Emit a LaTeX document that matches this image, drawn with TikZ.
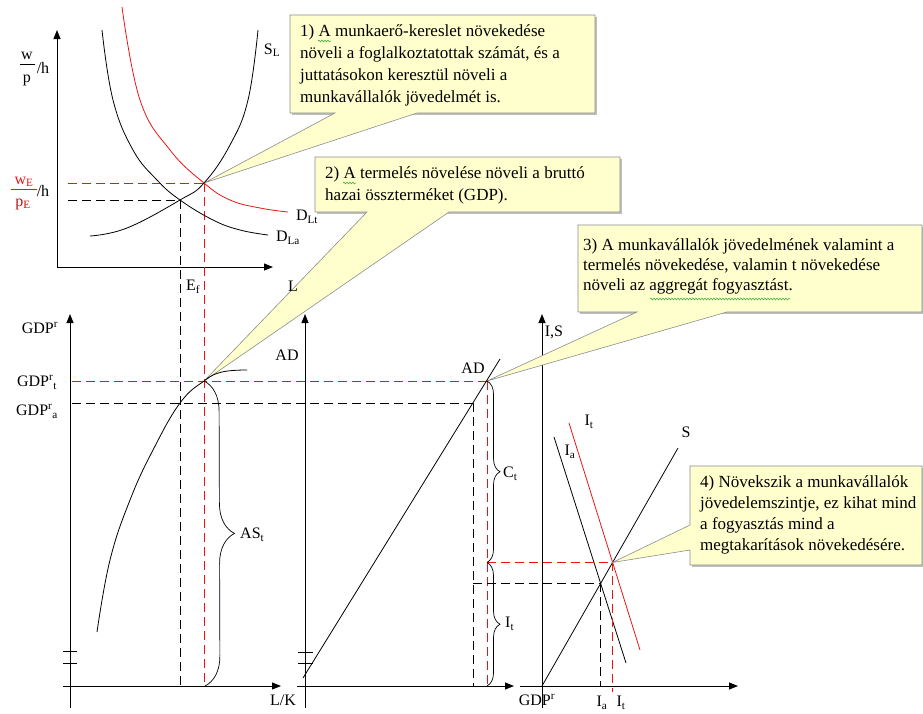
\documentclass[tikz,border=0pt]{standalone}
\usepackage{fontspec}
\setmainfont{Liberation Serif}
\usetikzlibrary{arrows.meta,decorations.pathreplacing,decorations.pathmorphing,intersections}
\definecolor{callfill}{RGB}{255,255,206}
\definecolor{callborder}{RGB}{140,140,140}
\definecolor{dred}{RGB}{235,20,20}
\definecolor{spell}{RGB}{40,170,40}
\begin{document}
\begin{tikzpicture}[x=1pt,y=-1pt,font=\fontsize{16}{22}\selectfont,
  axis/.style={line width=1pt,-{Triangle[length=9pt,width=7pt]}},
  curve/.style={line width=0.8pt},
  rcurve/.style={curve,dred},
  bdash/.style={line width=0.9pt,dash pattern=on 9pt off 5pt},
  rdash/.style={bdash,dred},
  lbl/.style={inner sep=0pt},
  callout/.style={fill=callfill,draw=callborder,line width=0.6pt},
  shade/.style={fill=black!25},
  ctext/.style={align=left,anchor=north west,inner sep=0pt},
  squig/.style={spell,line width=0.5pt,decorate,decoration={snake,amplitude=0.9pt,segment length=3pt}},
  brc/.style={decorate,decoration={brace,amplitude=#1},line width=0.7pt}]
\useasboundingbox (0,0) rectangle (923,713);

% ---------- axes ----------
\coordinate (o1) at (57,267);  \coordinate (y1) at (57,30);   \coordinate (x1) at (273,267);
\coordinate (yb2) at (70,708); \coordinate (y2) at (70,314);  \coordinate (xb2) at (63,686); \coordinate (x2) at (281,686);
\coordinate (yb3) at (305,708);\coordinate (y3) at (305,314); \coordinate (xb3) at (297,686);\coordinate (x3) at (514,686);
\coordinate (yb4) at (542,708);\coordinate (y4) at (542,314); \coordinate (xb4) at (520,686);\coordinate (x4) at (738,686);
\draw[axis] (o1) -- (y1);
\draw[axis] (o1) -- (x1);
\draw[axis] (yb2) -- (y2);
\draw[axis] (xb2) -- (x2);
\draw[axis] (yb3) -- (y3);
\draw[axis] (xb3) -- (x3);
\draw[axis] (yb4) -- (y4);
\draw[axis] (xb4) -- (x4);
% axis breaks
\draw[line width=0.9pt] (63,651) -- (77,651) (63,663) -- (77,663);
\draw[line width=0.9pt] (298,652) -- (313,652) (298,663) -- (313,663);

% ---------- key points ----------
\coordinate (ea) at (180,200);
\coordinate (et) at (204,183);
\coordinate (asa) at (180,403);
\coordinate (ast) at (204,381);
\coordinate (ada) at (473,403);
\coordinate (adt) at (487,381);
\coordinate (adlo) at (303,678);
\coordinate (adhi) at (500,359);

% ---------- callouts (drawn first, under the curves) ----------
\fill[shade] (292,17) rectangle (597,115);
\draw[callout] (290,15) -- (595,15) -- (595,113) -- (417,113) -- (et) -- (335,113) -- (290,113) -- cycle;
\fill[shade] (317,159) rectangle (622,214);
\draw[callout] (315,157) -- (620,157) -- (620,212) -- (449,212) -- (ast) -- (367,212) -- (315,212) -- cycle;
\fill[shade] (580,227) rectangle (925,314);
\draw[callout] (578,225) -- (922,225) -- (922,312) -- (727,312) -- (adt) -- (637,312) -- (578,312) -- cycle;

% ---------- top panel ----------
\draw[rdash] (68,183) -- (et);
\draw[bdash] (68,200) -- (ea);
\draw[bdash] (ea) -- (180,686);
\draw[rdash] (et) -- (204,686);
\draw[curve] plot[smooth,tension=0.7] coordinates {(90,236) (127,228) (180,200) (204,183) (230,145) (248,100) (258,30)};
\draw[curve] plot[smooth,tension=0.7] coordinates {(102,30) (113,100) (133,150) (157,180) (180,200) (213,220) (240,230) (268,235)};
\draw[rcurve] plot[smooth,tension=0.7] coordinates {(122,7) (140,100) (170,150) (204,183) (230,200) (260,208) (288,212)};

\node[lbl] (lw) at (27,56) {w};
\node[lbl] (lp) at (27,80) {p};
\draw[line width=0.6pt] (20,64) -- (35,64);
\node[lbl] (lh) at (43,68) {/h};
\node[lbl,dred] (lwe) at (24,182) {w\textsubscript{E}};
\draw[dred,line width=0.7pt] (11,189) -- (37,189);
\node[lbl] (lh2) at (43,191) {/h};
\node[lbl,dred!80!black] (lpe) at (23,204) {p\textsubscript{E}};
\node[lbl] (lsl) at (272,50) {S\textsubscript{L}};
\node[lbl] (ldlt) at (307,217) {D\textsubscript{Lt}};
\node[lbl] (ldla) at (288,238) {D\textsubscript{La}};
\node[lbl] (lef) at (193,287) {E\textsubscript{f}};
\node[lbl] (ll) at (293,286) {L};

% ---------- AS panel ----------
\draw[rdash] (72,381) -- (adt);
\draw[bdash] (72,403) -- (ada);
\draw[curve] plot[smooth,tension=0.7] coordinates {(97,632) (110,560) (130,500) (153,450) (180,403) (204,381) (222,372) (247,370)};
\draw[brc=30] (ast) -- (205,686);
\node[lbl,anchor=west] (last) at (240,535) {AS\textsubscript{t}};
\node[lbl] (lgdp) at (40,328) {GDP\textsuperscript{r}};
\node[lbl] (lgdpt) at (37,382) {GDP\textsuperscript{r}\textsubscript{t}};
\node[lbl] (lgdpa) at (37,411) {GDP\textsuperscript{r}\textsubscript{a}};
\node[lbl] (llk) at (283,700) {L/K};

% ---------- AD panel ----------
\draw[curve] (adlo) -- (adhi);
\draw[bdash] (ada) -- (ada |- xb3);
\draw[rdash] (adt) -- (adt |- xb3);
\node[lbl] (lad1) at (287,355) {AD};
\node[lbl] (lad2) at (473,368) {AD};

% ---------- I,S panel ----------
\draw[curve,name path=S] (542,686) -- (678,448);
\draw[curve,name path=Ia] (554,437) -- (626,663);
\draw[rcurve,name path=It] (569,423) -- (640,650);
\path[name intersections={of=S and Ia,by=isa}];
\path[name intersections={of=S and It,by=ist}];
\draw[bdash] (ada |- isa) -- (isa);
\draw[rdash] (adt |- ist) -- (ist);
\draw[bdash] (isa) -- (isa |- xb4);
\draw[rdash] (ist) -- ([yshift=-6pt]ist |- xb4);
\draw[brc=13] (adt) -- (adt |- ist);
\draw[brc=13] (adt |- ist) -- (adt |- xb3);
\node[lbl,anchor=west] (lct) at (503,474) {C\textsubscript{t}};
\node[lbl,anchor=west] (lit) at (505,624) {I\textsubscript{t}};
\node[lbl] (lis) at (554,332) {I,S};
\node[lbl] (lgdp2) at (537,700) {GDP\textsuperscript{r}};
\node[lbl] (lS) at (686,432) {S};
\node[lbl] (lIt) at (589,422) {I\textsubscript{t}};
\node[lbl] (lIa) at (570,452) {I\textsubscript{a}};
\node[lbl] (lIa2) at (602,703) {I\textsubscript{a}};
\node[lbl] (lIt2) at (621,703) {I\textsubscript{t}};

% ---------- callout 4 ----------
\fill[shade] (692,468) rectangle (925,567);
\draw[callout] (690,466) -- (922,466) -- (922,565) -- (690,565) -- (690,550) -- (ist) -- (690,525) -- cycle;

% ---------- callout texts ----------
\node[ctext,font=\fontsize{17}{22}\selectfont] (c1) at (300,24) {1) A munkaerő-kereslet növekedése\\növeli a foglalkoztatottak számát, és a\\juttatásokon keresztül növeli a\\munkavállalók jövedelmét is.};
\node[ctext,font=\fontsize{17}{22}\selectfont] (c2) at (325,166) {2) A termelés növelése növeli a bruttó\\hazai összterméket (GDP).};
\node[ctext,font=\fontsize{17}{20}\selectfont] (c3) at (583,238) {3) A munkavállalók jövedelmének valamint a\\termelés növekedése, valamin t növekedése\\növeli az aggregát fogyasztást.};
\node[ctext,font=\fontsize{17}{21}\selectfont] (c4) at (700,475) {4) Növekszik a munkavállalók\\jövedelemszintje, ez kihat mind\\a fogyasztás mind a\\megtakarítások növekedésére.};
\draw[squig] (318,41) -- (331,41);
\draw[squig] (343,183) -- (356,183);
\draw[squig] (650,299) -- (790,299);
\end{tikzpicture}
\end{document}
